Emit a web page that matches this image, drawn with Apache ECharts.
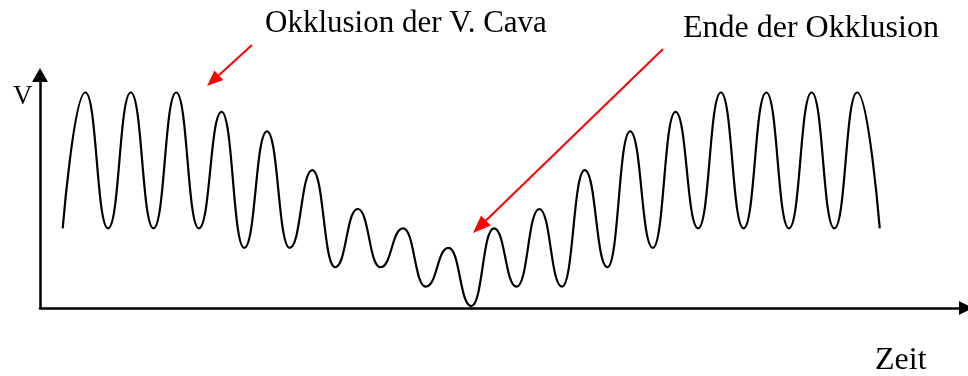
<!DOCTYPE html>
<html>
<head>
<meta charset="utf-8">
<script src="https://cdn.jsdelivr.net/npm/echarts@6/dist/echarts.min.js"></script>
<style>
    html, body { margin: 0; padding: 0; background: #fff; }
    #chart { width: 968px; height: 376px; }
</style>
</head>
<body>
<div id="chart"></div>
<script>
// extremes of the pressure wave, time in cycles, V in arbitrary units
var zeit = [0, 0.5, 1, 1.5, 2, 2.5, 3, 3.5, 4, 4.5, 5, 5.5, 6, 6.5, 7, 7.5, 8, 8.5, 9,
    9.5, 10, 10.5, 11, 11.5, 12, 12.5, 13, 13.5, 14, 14.5, 15, 15.5, 16, 16.5, 17, 17.5, 18];
var volumen = [4.1, 11.1, 4.1, 11.1, 4.1, 11.1, 4.1, 10.1, 3.1, 9.1, 3.1, 7.1, 2.1, 5.1,
    2.1, 4.1, 1.1, 3.1, 0.1, 4.1, 1.1, 5.1, 1.1, 7.1, 2.1, 9.1, 3.1, 10.1, 4.1, 11.1,
    4.1, 11.1, 4.1, 11.1, 4.1, 11.1, 4.1];

var labelOkklusion = 'Okklusion der V. Cava';
var labelEnde = 'Ende der Okklusion';
var labelX = 'Zeit';
var labelY = 'V';

var serif = '"Liberation Serif", "Times New Roman", serif';

function arrow(x1, y1, x2, y2, len, half) {
    var dx = x2 - x1, dy = y2 - y1;
    var d = Math.sqrt(dx * dx + dy * dy);
    var ux = dx / d, uy = dy / d;
    var bx = x2 - ux * len, by = y2 - uy * len;
    return [
        {
            type: 'line',
            shape: {x1: x1, y1: y1, x2: bx, y2: by},
            style: {stroke: '#ff0000', lineWidth: 2}
        },
        {
            type: 'polygon',
            shape: {points: [[x2, y2], [bx + uy * half, by - ux * half], [bx - uy * half, by + ux * half]]},
            style: {fill: '#ff0000'}
        }
    ];
}

function text(str, x, y, size) {
    return {
        type: 'text',
        x: x,
        y: y,
        style: {
            text: str,
            font: size + 'px ' + serif,
            fill: '#000',
            verticalAlign: 'middle'
        }
    };
}

var chart = echarts.init(document.getElementById('chart'));

var points = zeit.map(function (t, i) { return [t, volumen[i]]; });

var option = {
    animation: false,
    backgroundColor: '#fff',
    grid: {
        left: 40,
        right: 2,
        top: 75,
        bottom: 68
    },
    xAxis: {
        type: 'value',
        min: -0.5,
        max: 19.9,
        axisLine: {
            onZero: false,
            symbol: ['none', 'triangle'],
            symbolSize: [14, 14],
            lineStyle: {color: '#000', width: 2.5}
        },
        axisTick: {show: false},
        axisLabel: {show: false},
        splitLine: {show: false}
    },
    yAxis: {
        type: 'value',
        min: 0,
        max: 12,
        axisLine: {
            show: true,
            onZero: false,
            symbol: ['none', 'triangle'],
            symbolSize: [16, 14],
            lineStyle: {color: '#000', width: 2.5}
        },
        axisTick: {show: false},
        axisLabel: {show: false},
        splitLine: {show: false}
    },
    series: [
        {
            type: 'line',
            data: points,
            smooth: 0.5,
            smoothMonotone: 'x',
            showSymbol: false,
            lineStyle: {color: '#000', width: 2.2}
        }
    ],
    graphic: [
        text(labelOkklusion, 265, 24, 31),
        text(labelEnde, 683, 29, 32),
        text(labelX, 875, 361, 32),
        text(labelY, 13, 97, 27)
    ].concat(arrow(252, 45, 207, 86, 16, 6.5))
     .concat(arrow(663, 49, 473, 233, 18, 7))
};

chart.setOption(option);
</script>
</body>
</html>
